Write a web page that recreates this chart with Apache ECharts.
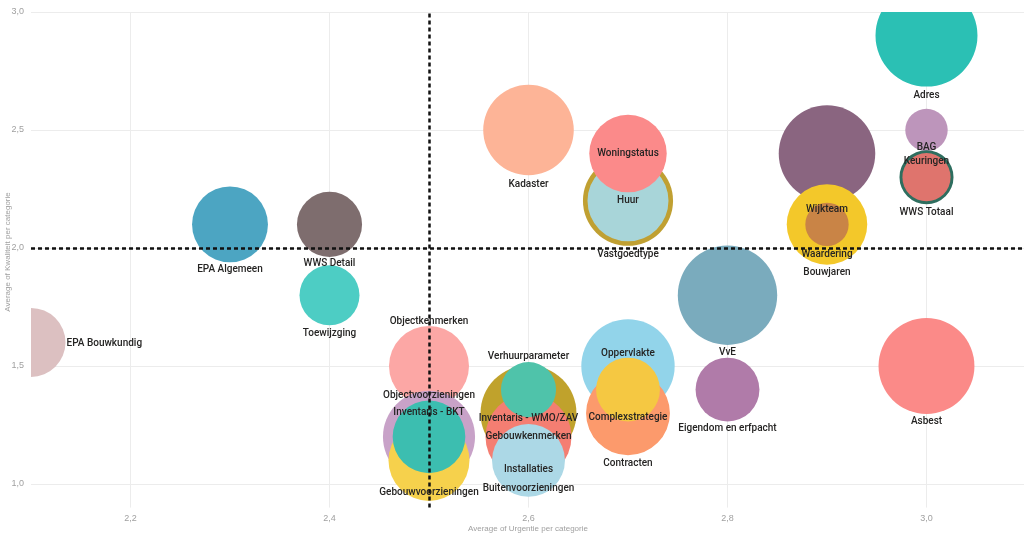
<!DOCTYPE html>
<html>
<head>
<meta charset="utf-8">
<script src="https://cdn.jsdelivr.net/npm/echarts@6/dist/echarts.min.js"></script>
<style>html,body{margin:0;padding:0;background:#fff}#c{width:1024px;height:539px}</style>
</head>
<body>
<div id="c"></div>
<script>
// ---- data ----
const categories = ['EPA Bouwkundig','EPA Algemeen','WWS Detail','Toewijzging','Kadaster','Vastgoedtype','Huur','Woningstatus','VvE','Wijkteam','Bouwjaren','Waardering','Adres','BAG','Keuringen','WWS Totaal','Asbest','Objectkenmerken','Objectvoorzieningen','Gebouwvoorzieningen','Inventaris - BKT','Inventaris - WMO/ZAV','Gebouwkenmerken','Installaties','Buitenvoorzieningen','Verhuurparameter','Oppervlakte','Contracten','Complexstrategie','Eigendom en erfpacht'];
const urgentie   = [2.1, 2.3, 2.4, 2.4, 2.6, 2.7, 2.7, 2.7, 2.8, 2.9, 2.9, 2.9, 3.0, 3.0, 3.0, 3.0, 3.0, 2.5, 2.5, 2.5, 2.5, 2.6, 2.6, 2.6, 2.6, 2.6, 2.7, 2.7, 2.7, 2.8];
const kwaliteit  = [1.6, 2.1, 2.1, 1.8, 2.5, 2.2, 2.2, 2.4, 1.8, 2.4, 2.1, 2.1, 2.9, 2.5, 2.3, 2.3, 1.5, 1.5, 1.2, 1.1, 1.2, 1.3, 1.2, 1.1, 1.1, 1.4, 1.5, 1.3, 1.4, 1.4];
const bubbleSize = [11.9, 14.4, 10.6, 9.0, 20.5, 20.3, 16.4, 15.0, 24.7, 23.3, 16.2, 4.7, 26.0, 4.5, 7.3, 5.8, 23.0, 16.0, 21.2, 16.4, 13.2, 23.0, 18.5, 11.6, 13.3, 7.6, 21.8, 17.6, 10.2, 10.2];
const xTicks = [2.2, 2.4, 2.6, 2.8, 3.0];
const yTicks = [1.0, 1.5, 2.0, 2.5, 3.0];
const xRef = 2.5, yRef = 2.0;

// ---- styles ----
const colors = {
  'EPA Bouwkundig':'#dcc0c1','EPA Algemeen':'#4ca5c2','WWS Detail':'#7e6d6e','Toewijzging':'#4dcdc4',
  'Kadaster':'#fdb497','Vastgoedtype':'#c0a032','Huur':'#a8d5d9','Woningstatus':'#fb8a8a','VvE':'#7aabbd',
  'Wijkteam':'#8a6580','Bouwjaren':'#f3c82a','Waardering':'#c98446','Adres':'#2bc0b4','BAG':'#bd95bb',
  'Keuringen':'#2e6e5f','WWS Totaal':'#df746d','Asbest':'#fb8a88','Objectkenmerken':'#fca7a5',
  'Objectvoorzieningen':'#c8a2c8','Gebouwvoorzieningen':'#f6d14c','Inventaris - BKT':'#3cbeb0',
  'Inventaris - WMO/ZAV':'#c0a22c','Gebouwkenmerken':'#f47e72','Installaties':'#8ad4eb',
  'Buitenvoorzieningen':'#acd8e6','Verhuurparameter':'#4fc3aa','Oppervlakte':'#92d4ea','Contracten':'#fc9a6c',
  'Complexstrategie':'#f5c842','Eigendom en erfpacht':'#b07ba9'
};
const labelDy = {
  'Adres':60,'BAG':17,'Keuringen':-16,'WWS Totaal':35,'Wijkteam':56,'Waardering':30,'Bouwjaren':48,
  'Kadaster':54,'Woningstatus':0,'Huur':0,'Vastgoedtype':54,'EPA Algemeen':45,'WWS Detail':39,
  'Toewijzging':38,'VvE':57,'EPA Bouwkundig':1,'Asbest':55,'Objectkenmerken':-45,'Verhuurparameter':-33,
  'Oppervlakte':-13,'Objectvoorzieningen':-41,'Inventaris - BKT':-24,'Inventaris - WMO/ZAV':5,
  'Complexstrategie':28,'Eigendom en erfpacht':39,'Gebouwkenmerken':0,'Contracten':50,'Installaties':9,
  'Gebouwvoorzieningen':32,'Buitenvoorzieningen':28
};
const labelRight = {'EPA Bouwkundig': true};
const radiusOf = v => Math.sqrt(v) * 10;
const fmt = v => v.toFixed(1).replace('.', ',');

const data = categories.map((n, i) => [urgentie[i], kwaliteit[i], bubbleSize[i], i]);

const chart = echarts.init(document.getElementById('c'), null, {renderer: 'canvas'});
chart.setOption({
  animation: false,
  backgroundColor: '#fff',
  grid: {left: 31, top: 12, width: 993, height: 495.6, containLabel: false},
  xAxis: {
    type: 'value', min: 2.1, max: 3.098,
    axisLine: {show: false}, axisTick: {show: false, customValues: xTicks},
    axisLabel: {customValues: xTicks, formatter: fmt, color: '#a0a0a0', fontSize: 9, fontFamily: 'Liberation Sans', margin: 6},
    splitLine: {show: true, lineStyle: {color: '#ececec', width: 1}}
  },
  yAxis: {
    type: 'value', min: 0.9, max: 3.0,
    axisLine: {show: false}, axisTick: {show: false, customValues: yTicks},
    axisLabel: {customValues: yTicks, formatter: fmt, color: '#a0a0a0', fontSize: 9, fontFamily: 'Liberation Sans', margin: 7},
    splitLine: {show: true, lineStyle: {color: '#ececec', width: 1}}
  },
  graphic: [
    {type: 'text', left: 468, top: 525, z: 10, style: {text: 'Average of Urgentie per categorie', fill: '#a0a0a0', font: '8px "Liberation Sans"'}},
    {type: 'text', x: 8, y: 252, rotation: Math.PI / 2, z: 10,
     style: {text: 'Average of Kwaliteit per categorie', fill: '#a0a0a0', font: '8px "Liberation Sans"', align: 'center', verticalAlign: 'middle'}}
  ],
  series: [
    {
      type: 'custom', name: 'bubbles', clip: true, z: 2,
      data: data,
      renderItem: (params, api) => {
        const p = api.coord([api.value(0), api.value(1)]);
        const name = categories[api.value(3)];
        return {type: 'circle', shape: {cx: p[0], cy: p[1], r: radiusOf(api.value(2))}, style: {fill: colors[name]}};
      }
    },
    {
      type: 'custom', name: 'labels', clip: false, z: 3,
      data: data,
      renderItem: (params, api) => {
        const p = api.coord([api.value(0), api.value(1)]);
        const name = categories[api.value(3)];
        const r = radiusOf(api.value(2));
        const right = !!labelRight[name];
        return {type: 'text', x: right ? p[0] + r + 1 : p[0], y: p[1] + (labelDy[name] || 0),
          style: {text: name, fill: '#252423', font: '500 10px Roboto', align: right ? 'left' : 'center', verticalAlign: 'middle'}};
      }
    },
    {
      type: 'scatter', name: 'ref', data: [], z: 5, silent: true,
      markLine: {
        silent: true, symbol: 'none', label: {show: false},
        lineStyle: {color: '#111', width: 2.5, type: [4, 3]},
        data: [{xAxis: xRef}, {yAxis: yRef}]
      }
    }
  ]
});
</script>
</body>
</html>
